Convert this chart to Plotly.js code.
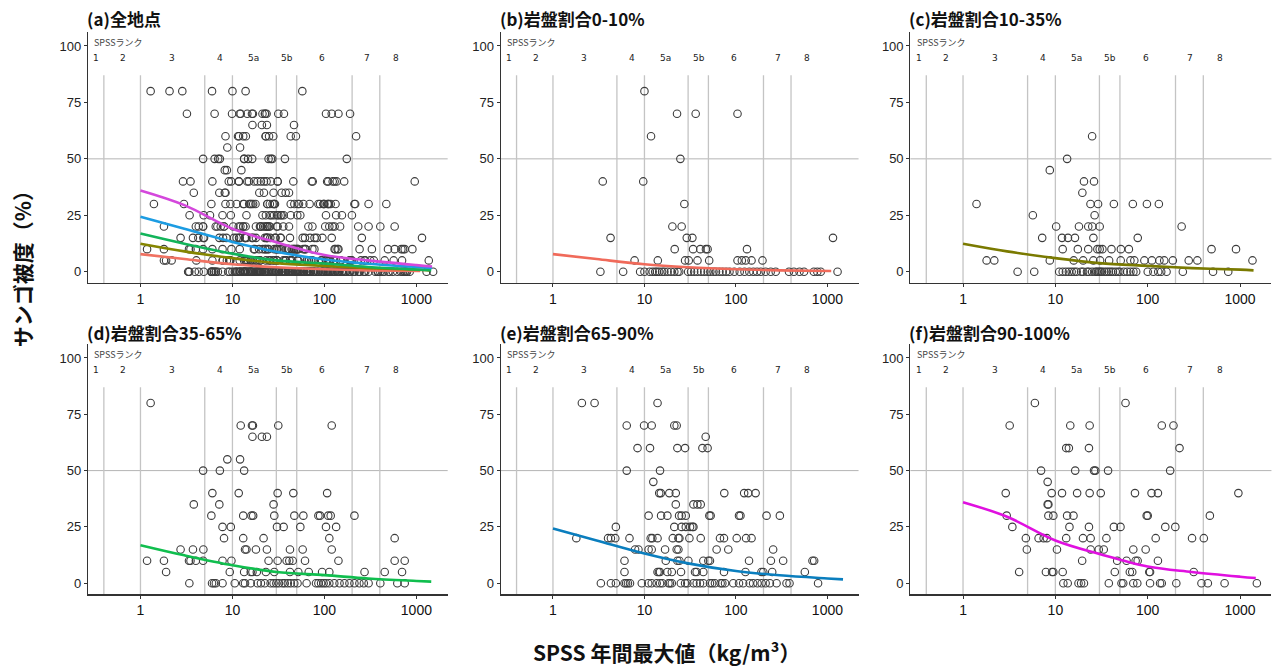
<!DOCTYPE html>
<html>
<head>
<meta charset="utf-8">
<script src="https://cdn.plot.ly/plotly-3.0.1.min.js"></script>
<style>html,body{margin:0;padding:0;background:#fff;}#chart{width:1274px;height:669px;}</style>
</head>
<body>
<div id="chart"></div>
<script>
// ---------- DATA ----------
// Scatter points per panel: [coral cover %, [SPSS annual max values (kg/m3) ...]]
const rowsB = [
  [80, [10]],
  [70, [22.7, 36.3, 104]],
  [60, [11.8]],
  [50, [24.7]],
  [40, [3.5, 9.7]],
  [30, [27.3]],
  [20, [20.2, 25.5]],
  [15, [4.26, 29, 33.4, 1150]],
  [10, [21.4, 34, 40.8, 47, 49, 132]],
  [5,  [7.8, 14, 27.8, 30.5, 38, 51, 104, 116, 128, 148, 195]],
  [0,  [3.3, 5.85, 8.97, 10, 11.4, 12.3, 13.1, 13.7, 14.5, 15.6, 16.5, 17.9, 19.5, 21.2, 23, 24, 30, 32.3, 35, 38, 41.5, 45, 49, 52.5, 56.8, 60.5, 66, 71.6, 78, 85, 96, 110, 124, 140, 155, 170, 187, 211, 240, 272, 380, 430, 495, 555, 710, 775, 845, 1290]]
];
const rowsC = [
  [60, [25]],
  [50, [13.4]],
  [45, [8.7]],
  [40, [20.4, 26.2]],
  [35, [19.6]],
  [30, [1.4, 24, 29, 43, 69, 98, 132]],
  [25, [5.7, 26.6]],
  [20, [10.2, 18, 22.7, 25.1, 30.2, 233]],
  [15, [7.2, 11.8, 13.7, 16.3, 25.8, 78]],
  [10, [12, 17.5, 22.7, 28.5, 30.2, 32.3, 40.5, 51.2, 62.5, 491, 904]],
  [5,  [1.8, 2.18, 8.7, 15.8, 20, 25.8, 30.5, 38.2, 51, 65, 71.6, 92, 111, 134, 151, 187, 278, 345, 1363]],
  [0,  [3.9, 5.9, 11, 12, 13, 14, 15, 16, 17, 19, 20, 22, 23, 25, 27, 28, 29, 30, 31, 32, 34, 36, 38, 40, 42, 45, 48, 50, 55, 60, 65, 70, 75, 100, 115, 130, 140, 160, 240, 510, 745]]
];
const rowsD = [
  [80, [1.29]],
  [70, [12.3, 16.3, 16.7, 31.5, 120]],
  [65, [16.5, 20.9, 23.7]],
  [55, [8.8, 12.1]],
  [50, [4.8, 7.3, 13.4]],
  [40, [6.05, 11.7, 31, 45.9, 107]],
  [35, [3.8, 7.2, 28]],
  [30, [5.9, 13.1, 16.1, 16.8, 28.5, 47.1, 59, 86, 89.7, 110, 117, 212]],
  [25, [7.8, 9.6, 30.5, 36, 54.7, 104, 134]],
  [20, [8.1, 13.1, 21.8, 113, 580]],
  [15, [2.73, 3.72, 4.83, 13.7, 14.2, 18, 23.7, 42.2, 58, 120]],
  [10, [1.18, 1.8, 3.37, 3.5, 4, 4.8, 7.8, 9.75, 24.7, 31, 38.8, 41.5, 45.2, 61.5, 142, 580, 746]],
  [5,  [1.9, 9.35, 13.4, 15.8, 16.5, 18.4, 23.1, 28.5, 42.2, 52, 67.5, 94.3, 113, 273, 452, 698]],
  [0,  [3.4, 6.0, 6.3, 6.6, 7.8, 10.6, 13.1, 13.7, 15.8, 18.7, 20.4, 22.5, 26, 28, 30, 32, 35, 37, 40, 43, 47, 51, 64, 81, 86, 92, 98, 104, 113, 128, 146, 165, 187, 212, 240, 268, 302, 405, 620, 746]]
];
const rowsE = [
  [80, [2.07, 2.85, 13.9]],
  [70, [6.4, 9.9, 12, 21.2, 22.5]],
  [65, [46.7]],
  [60, [8.4, 11.5, 22.9, 27.8, 43, 49]],
  [50, [6.4, 14.8]],
  [45, [12.5]],
  [40, [14.5, 15.1, 18.7, 22, 74.6, 123, 136, 164]],
  [35, [22, 34.3, 37.9, 41.2]],
  [30, [11.1, 15.2, 17.8, 23.9, 25.5, 28.3, 51.2, 52.9, 108, 112, 216, 302]],
  [25, [4.87, 21.2, 25.5, 28.3, 31.5, 33.4, 34.3]],
  [20, [1.8, 4.0, 4.3, 4.8, 6.86, 11.7, 12.2, 13.9, 20.4, 23.5, 24.1, 31, 41.2, 66.9, 74, 102, 129, 148]],
  [15, [7.9, 8.6, 11.1, 12, 16.8, 22.5, 23.5, 61.5, 82.5, 255]],
  [10, [6.05, 17.1, 22.9, 24.1, 30.2, 44, 49.9, 52, 139, 241, 328, 686, 716]],
  [5,  [6.05, 13.9, 14.4, 14.8, 17.8, 19.9, 25.1, 35.7, 37.2, 44, 74, 127, 190, 199, 249, 566]],
  [0,  [3.34, 4.3, 4.87, 6.05, 6.3, 6.6, 6.95, 9.35, 11, 12, 13.6, 14.8, 15.7, 18.3, 19, 19.9, 25, 27.8, 29.4, 34.3, 37.2, 40.5, 44, 52, 55, 59, 68, 71, 76, 93.5, 108, 120, 141, 154, 172, 191, 211, 235, 278, 357, 385, 790]]
];
const rowsF = [
  [80, [6.0, 57.5]],
  [70, [3.2, 14.5, 23.5, 142, 190]],
  [60, [13.1, 14, 23.1, 221]],
  [50, [7, 16.4, 26.2, 27.1, 37.2, 175]],
  [45, [8.25]],
  [40, [2.9, 9.12, 11.8, 17.2, 23.5, 31, 72.8, 110, 129, 959]],
  [35, [8.25, 8.4]],
  [30, [2.97, 8.4, 9.5, 13.4, 15.7, 97.5, 100, 471]],
  [25, [3.42, 14.2, 23.1, 43, 50.7, 155, 199]],
  [20, [4.79, 6.58, 7.46, 8.1, 13.1, 19.9, 24.1, 35.7, 122, 302, 405]],
  [15, [4.91, 10.4, 24.1, 29.5, 33.4, 69.8, 95]],
  [10, [19.5, 46.7, 59, 74, 77.8, 129]],
  [5,  [4.05, 7.9, 9.2, 9.5, 12, 44, 64, 68, 104, 106, 315]],
  [0,  [12.2, 13.6, 17.8, 19, 20.4, 37.9, 52, 54.3, 69.8, 77.1, 106, 136, 142, 204, 382, 448, 680, 1520]]
];

// Fitted curves
const fitBX = [1, 3, 10, 30, 100, 300, 1100];
const fitBY = [7.8, 5.6, 3.3, 2.0, 1.1, 0.6, 0.3];
const fitCX = [1, 3, 10, 30, 100, 300, 1000, 1400];
const fitCY = [12.4, 9.0, 6.0, 3.8, 2.6, 1.6, 0.9, 0.6];
const fitDX = [1, 3, 10, 30, 100, 300, 1000, 1450];
const fitDY = [16.9, 12.4, 8.0, 5.0, 3.6, 2.1, 1.0, 0.7];
const fitEX = [1, 3, 10, 30, 100, 300, 1000, 1480];
const fitEY = [24.3, 19.0, 13.2, 8.8, 5.4, 3.5, 2.1, 1.7];
const fitFX = [1, 3, 10, 30, 100, 300, 1000, 1480];
const fitFY = [36.0, 29.5, 19.0, 13.0, 7.4, 5.0, 2.9, 2.3];

// SPSS rank boundaries and labels
const rankBounds = [0.4, 1, 5, 10, 30, 50, 200, 400];
const rankLabels = ['1', '2', '3', '4', '5a', '5b', '6', '7', '8'];
const rankLabelX = [0.33, 0.65, 2.2, 7.4, 17, 39, 95, 290, 600];

const panelTitles = ['(a)全地点', '(b)岩盤割合0-10%', '(c)岩盤割合10-35%', '(d)岩盤割合35-65%', '(e)岩盤割合65-90%', '(f)岩盤割合90-100%'];
const xTicks = [1, 10, 100, 1000];
const yTicks = [0, 25, 50, 75, 100];

// ---------- BUILD ----------
function flat(rows) {
  const xs = [], ys = [];
  rows.forEach(([y, list]) => list.forEach(x => { xs.push(x); ys.push(y); }));
  return {x: xs, y: ys};
}
const pts = [rowsB, rowsC, rowsD, rowsE, rowsF].map(flat);
const all = {x: [].concat(...pts.map(p => p.x)), y: [].concat(...pts.map(p => p.y))};
const panelPts = [all, ...pts];

const fits = [[fitBX, fitBY], [fitCX, fitCY], [fitDX, fitDY], [fitEX, fitEY], [fitFX, fitFY]];
const fitColorsA = ['#F07262', '#858500', '#12B45A', '#1C9CE2', '#D448DC'];
const fitColors = ['#F06A5A', '#7A7A00', '#10BE4E', '#0A7EBE', '#E010E0'];

const xDoms = [[0.0691, 0.3514], [0.3931, 0.6739], [0.7146, 0.998]];
const yDoms = [[0.5770, 0.9515], [0.1114, 0.4851]];

const traces = [];
const layout = {
  width: 1274, height: 669,
  margin: {l: 0, r: 0, t: 0, b: 0},
  paper_bgcolor: '#fff', plot_bgcolor: '#fff',
  showlegend: false,
  shapes: [], annotations: []
};

for (let i = 0; i < 6; i++) {
  const n = i + 1;
  const xa = 'x' + (n === 1 ? '' : n), ya = 'y' + (n === 1 ? '' : n);
  const xk = 'xaxis' + (n === 1 ? '' : n), yk = 'yaxis' + (n === 1 ? '' : n);
  const col = i % 3, row = Math.floor(i / 3);
  layout[xk] = {
    type: 'log', domain: xDoms[col], anchor: ya, range: [-0.57, 3.34],
    tickvals: xTicks, ticktext: xTicks.map(String),
    ticks: 'outside', ticklen: 3, tickwidth: 1, tickcolor: '#333',
    showline: true, linecolor: '#333', linewidth: 1.2,
    showgrid: false, zeroline: false,
    tickfont: {family: 'Liberation Sans, Arial, sans-serif', size: 14, color: '#111'}
  };
  layout[yk] = {
    domain: yDoms[row], anchor: xa, range: [-5, 106],
    tickvals: yTicks, ticks: 'outside', ticklen: 3, tickwidth: 1, tickcolor: '#333',
    showline: true, linecolor: '#333', linewidth: 1.2,
    showgrid: false, zeroline: false,
    tickfont: {family: 'Liberation Sans, Arial, sans-serif', size: 13, color: '#222'}
  };
  // rank boundary lines
  rankBounds.forEach(b => layout.shapes.push({
    type: 'line', xref: xa, yref: ya, x0: b, x1: b, y0: -5, y1: 87,
    line: {color: '#c4c4c4', width: 1.3}, layer: 'below'
  }));
  // 50% line
  layout.shapes.push({
    type: 'line', xref: xa + ' domain', yref: ya, x0: 0, x1: 1, y0: 50, y1: 50,
    line: {color: '#b4b4b4', width: 1}, layer: 'below'
  });
  // rank labels
  rankLabels.forEach((lab, k) => layout.annotations.push({
    xref: xa, yref: ya, x: Math.log10(rankLabelX[k]), y: 94.5, text: lab, showarrow: false,
    font: {family: 'DejaVu Sans, sans-serif', size: 9, color: '#222'}, xanchor: 'center', yanchor: 'middle'
  }));
  layout.annotations.push({
    xref: xa + ' domain', yref: ya, x: 0.012, y: 101.5, text: 'SPSSランク', showarrow: false,
    font: {family: 'Noto Sans CJK JP, sans-serif', size: 9, color: '#444'}, xanchor: 'left', yanchor: 'middle'
  });
  // panel title
  layout.annotations.push({
    xref: 'paper', yref: 'paper',
    x: xDoms[col][0] - 0.0025, y: row === 0 ? 0.973 : 0.503,
    text: '<b>' + panelTitles[i] + '</b>', showarrow: false,
    font: {family: 'Noto Sans CJK JP, sans-serif', size: 17, color: '#111'}, xanchor: 'left', yanchor: 'middle'
  });
  // points
  traces.push({
    type: 'scatter', mode: 'markers', x: panelPts[i].x, y: panelPts[i].y, xaxis: xa, yaxis: ya,
    marker: {symbol: 'circle-open', size: 7.5, color: '#3c3c3c', line: {width: 1.1}},
    hoverinfo: 'x+y'
  });
  // fits
  if (i === 0) {
    fits.forEach((f, k) => traces.push({
      type: 'scatter', mode: 'lines', x: f[0], y: f[1], xaxis: xa, yaxis: ya,
      line: {color: fitColorsA[k], width: 2.6, shape: 'spline', smoothing: 1}
    }));
  } else {
    const f = fits[i - 1];
    traces.push({
      type: 'scatter', mode: 'lines', x: f[0], y: f[1], xaxis: xa, yaxis: ya,
      line: {color: fitColors[i - 1], width: 2.6, shape: 'spline', smoothing: 1}
    });
  }
}

// global axis titles
layout.annotations.push({
  xref: 'paper', yref: 'paper', x: 0.523, y: 0.026,
  text: '<b>SPSS 年間最大値（kg/m³）</b>', showarrow: false,
  font: {family: 'Noto Sans CJK JP, sans-serif', size: 21, color: '#111'}, xanchor: 'center', yanchor: 'middle'
});
layout.annotations.push({
  xref: 'paper', yref: 'paper', x: 0.017, y: 0.606,
  text: '<b>サンゴ被度（%）</b>', showarrow: false, textangle: -90,
  font: {family: 'Noto Sans CJK JP, sans-serif', size: 21, color: '#111'}, xanchor: 'center', yanchor: 'middle'
});

Plotly.newPlot('chart', traces, layout, {staticPlot: true, displayModeBar: false});
</script>
</body>
</html>
